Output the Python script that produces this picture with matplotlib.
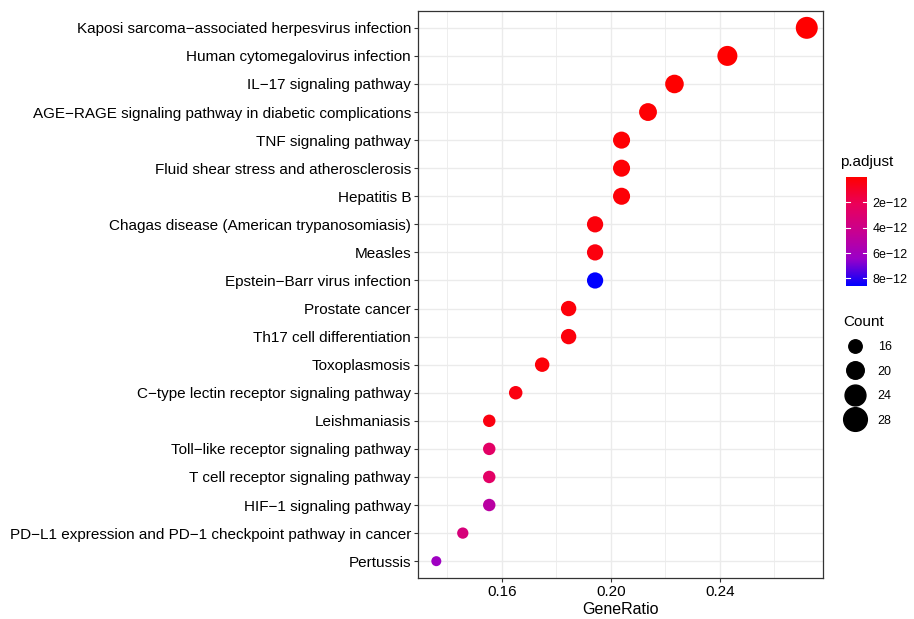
import numpy as np
import matplotlib
matplotlib.use("Agg")
import matplotlib.pyplot as plt
from matplotlib.colors import LinearSegmentedColormap, Normalize
from matplotlib.lines import Line2D

plt.rcParams['font.family'] = ['Liberation Sans', 'DejaVu Sans']

# pathways, top to bottom
pathways = [
    "Kaposi sarcoma\u2212associated herpesvirus infection",
    "Human cytomegalovirus infection",
    "IL\u221217 signaling pathway",
    "AGE\u2212RAGE signaling pathway in diabetic complications",
    "TNF signaling pathway",
    "Fluid shear stress and atherosclerosis",
    "Hepatitis B",
    "Chagas disease (American trypanosomiasis)",
    "Measles",
    "Epstein\u2212Barr virus infection",
    "Prostate cancer",
    "Th17 cell differentiation",
    "Toxoplasmosis",
    "C\u2212type lectin receptor signaling pathway",
    "Leishmaniasis",
    "Toll\u2212like receptor signaling pathway",
    "T cell receptor signaling pathway",
    "HIF\u22121 signaling pathway",
    "PD\u2212L1 expression and PD\u22121 checkpoint pathway in cancer",
    "Pertussis",
]
counts = [28, 25, 23, 22, 21, 21, 21, 20, 20, 20, 19, 19, 18, 17, 16, 16, 16, 16, 15, 14]
total = 103
gene_ratio = [c / total for c in counts]
p_adjust = [2e-15, 1.5e-14, 3e-14, 8e-14, 1e-13, 1.2e-13, 2e-13, 3e-13, 3.5e-13, 8.6e-12,
            2.5e-13, 3e-13, 2.2e-13, 4e-13, 4e-13, 2.6e-12, 2.6e-12, 5.0e-12, 3.4e-12, 6.2e-12]

size_breaks = [16, 20, 24, 28]
p_breaks = [2e-12, 4e-12, 6e-12, 8e-12]

# red -> blue roughly like ggplot's Lab gradient
cmap = LinearSegmentedColormap.from_list("padj", [
    (0.0, "#FF0000"), (0.25, "#EA005A"), (0.5, "#C80090"),
    (0.75, "#9A00C8"), (1.0, "#0000FF")])
norm = Normalize(vmin=min(p_adjust), vmax=max(p_adjust))


def size_of(c):
    # area in pt^2, linear in count
    return 52 + (np.asarray(c) - 14) * (250 - 52) / 14


fig = plt.figure(figsize=(9.14, 6.19), dpi=100)
ax = fig.add_axes([418 / 914, 1 - 578 / 619, 405 / 914, 567 / 619])

ypos = np.arange(len(pathways))[::-1] + 1
ax.scatter(gene_ratio, ypos, s=size_of(counts), c=p_adjust, cmap=cmap, norm=norm,
           edgecolors='none', zorder=3)

ax.set_xlim(0.1292, 0.2778)
ax.set_ylim(0.4, len(pathways) + 0.6)
ax.set_yticks(ypos)
ax.set_yticklabels(pathways)
ax.set_xticks([0.16, 0.20, 0.24])
ax.set_xticklabels(["0.16", "0.20", "0.24"])
ax.set_xticks([0.14, 0.18, 0.22, 0.26], minor=True)
ax.grid(which='major', color='#EBEBEB', linewidth=1.0, zorder=0)
ax.grid(which='minor', axis='x', color='#EBEBEB', linewidth=0.6, zorder=0)
ax.set_axisbelow(True)
ax.tick_params(axis='both', which='major', labelsize=11, length=3, color='#333333',
               labelcolor='black', pad=2)
ax.tick_params(axis='x', which='minor', length=0)
for sp in ax.spines.values():
    sp.set_color('#333333')
    sp.set_linewidth(0.9)
ax.set_xlabel("GeneRatio", fontsize=11.5, labelpad=2)

# colour bar
cax = fig.add_axes([846 / 914, 1 - 286 / 619, 21 / 914, 109 / 619])
cb = fig.colorbar(plt.cm.ScalarMappable(norm=norm, cmap=cmap), cax=cax)
cb.outline.set_visible(False)
cax.invert_yaxis()
cb.set_ticks(p_breaks)
cb.set_ticklabels([f"{int(round(v * 1e12))}e\u221212" for v in p_breaks])
cax.tick_params(length=0, labelsize=9, pad=4)
for v in p_breaks:
    cax.axhline(v, xmin=0, xmax=0.2, color='white', linewidth=0.8)
    cax.axhline(v, xmin=0.8, xmax=1, color='white', linewidth=0.8)
fig.text(840 / 914, 1 - 162 / 619, "p.adjust", fontsize=11, va='center', ha='left')

# size legend
handles = [Line2D([], [], linestyle='none', marker='o', color='black',
                  markersize=np.sqrt(size_of(c)) * 1.08) for c in size_breaks]
leg = fig.legend(handles, [str(c) for c in size_breaks], title="Count",
                 loc='upper left', bbox_to_anchor=(834 / 914, 1 - 306 / 619),
                 frameon=False, fontsize=9, title_fontsize=11, labelspacing=1.0,
                 handletextpad=0.8, borderpad=0.2)
leg._legend_box.align = "left"

fig.savefig("out.png", dpi=100)
